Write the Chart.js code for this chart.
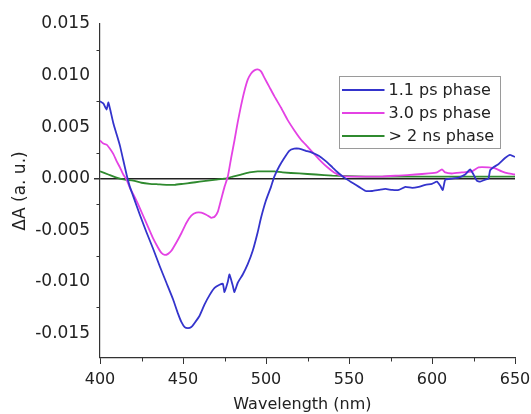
<!DOCTYPE html>
<html>
<head>
<meta charset="utf-8">
<script src="https://cdn.jsdelivr.net/npm/chart.js@4.4.1/dist/chart.umd.min.js"></script>
<style>
  html, body { margin: 0; padding: 0; background: #fff; }
  #wrap { width: 531px; height: 414px; }
</style>
</head>
<body>
<div id="wrap"><canvas id="c" width="531" height="414"></canvas></div>
<script>
// ---- data ----
const seriesLabels = ["1.1 ps phase", "3.0 ps phase", "> 2 ns phase"];

const blueX = [400,402,404,405,406,408,410,412,414,416,418,420,424,428,432,436,440,444,447,449,451,453,455,457,460,463,466,469,472,474,475,477,478,480,481,483,486,489,492,495,497,500,503,505,508,511,514,517,520,524,528,532,536,540,544,548,552,556,560,564,568,572,576,580,584,588,592,596,600,603,605,606.5,608,612,616,620,623,625,627,629,632,634,635,637,640,644,647,650];
const blueY = [0.0075,0.0073,0.0067,0.0074,0.0068,0.0054,0.0043,0.0032,0.0018,0.0004,-0.0008,-0.0017,-0.0035,-0.0052,-0.0068,-0.0085,-0.0101,-0.0117,-0.0131,-0.0139,-0.0144,-0.0145,-0.0144,-0.0140,-0.0133,-0.0122,-0.0113,-0.0106,-0.0103,-0.0102,-0.0110,-0.0100,-0.0093,-0.0104,-0.0110,-0.0101,-0.0093,-0.0083,-0.0070,-0.0052,-0.0038,-0.0021,-0.0008,0.0002,0.0012,0.0020,0.0027,0.0029,0.0029,0.0027,0.0025,0.0022,0.0017,0.0011,0.0005,0.0000,-0.0004,-0.0008,-0.0012,-0.0012,-0.0011,-0.0010,-0.0011,-0.0011,-0.0008,-0.0009,-0.0008,-0.0006,-0.0005,-0.0003,-0.0007,-0.0011,-0.0001,0.0000,0.0001,0.0004,0.0009,0.0004,-0.0002,-0.0003,-0.0001,0.0000,0.0008,0.0011,0.0014,0.0020,0.0023,0.0021];

const magX = [400,402,404,406,408,410,412,414,416,418,420,423,426,429,432,435,437,439,441,443,446,449,452,455,458,461,464,467,469,471,473,475,477,479,481,483,485,487,489,491,493,495,497,499,502,505,509,513,517,521,525,529,533,537,541,545,550,560,570,580,590,598,603,606,608,612,618,624,628,634,638,642,646,650];
const magY = [0.0037,0.0034,0.0033,0.0029,0.0024,0.0017,0.0011,0.0004,-0.0001,-0.0009,-0.0015,-0.0025,-0.0036,-0.0047,-0.0058,-0.0067,-0.0072,-0.0074,-0.0073,-0.0070,-0.0062,-0.0053,-0.0043,-0.0036,-0.0033,-0.0033,-0.0035,-0.0038,-0.0037,-0.0032,-0.0020,-0.0008,0.0002,0.0020,0.0037,0.0055,0.0071,0.0085,0.0096,0.0102,0.0105,0.0106,0.0104,0.0098,0.0089,0.0080,0.0069,0.0057,0.0047,0.0038,0.0031,0.0024,0.0017,0.0011,0.0006,0.0003,0.0002,0.0002,0.0002,0.0003,0.0004,0.0005,0.0006,0.0009,0.0006,0.0005,0.0006,0.0007,0.0011,0.0011,0.0010,0.0007,0.0005,0.0004];

const greenX = [400,405,410,415,420,425,430,435,440,445,450,455,460,465,470,475,480,485,490,495,500,505,510,520,530,540,560,580,600,620,640,650];
const greenY = [0.0007,0.0004,0.0001,-0.0001,-0.0002,-0.0004,-0.0005,-0.00055,-0.0006,-0.0006,-0.0005,-0.0004,-0.0003,-0.0002,-0.0001,0.0000,0.0002,0.0004,0.0006,0.0007,0.0007,0.0007,0.0006,0.0005,0.0004,0.0003,0.0002,0.0002,0.0002,0.0002,0.0002,0.0002];

const xTicks = [400,450,500,550,600,650];
const xMinorTicks = [425,475,525,575,625];
const yTicks = [-0.015,-0.010,-0.005,0.000,0.005,0.010,0.015];
const yMinorTicks = [-0.0125,-0.0075,-0.0025,0.0025,0.0075,0.0125];

const colors = ["#3434cc", "#e442e4", "#2f8a2f"];
const FONT = "'DejaVu Sans', 'Liberation Sans', Arial, sans-serif";
const AXIS = "#333333";

function pts(xs, ys) { return xs.map((x, i) => ({ x: x, y: ys[i] })); }

const minorTickPlugin = {
  id: "minorTicks",
  afterDraw(chart) {
    const ctx = chart.ctx;
    const xs = chart.scales.x, ys = chart.scales.y;
    ctx.save();
    ctx.strokeStyle = AXIS;
    ctx.lineWidth = 1;
    xMinorTicks.forEach(v => {
      const px = Math.round(xs.getPixelForValue(v)) + 0.5;
      ctx.beginPath(); ctx.moveTo(px, xs.top); ctx.lineTo(px, xs.top + 3.5); ctx.stroke();
    });
    yMinorTicks.forEach(v => {
      const py = Math.round(ys.getPixelForValue(v)) + 0.5;
      ctx.beginPath(); ctx.moveTo(ys.right - 3.5, py); ctx.lineTo(ys.right, py); ctx.stroke();
    });
    ctx.restore();
  }
};

const legendPlugin = {
  id: "boxLegend",
  afterDraw(chart) {
    const ctx = chart.ctx;
    const bx = 339.5, by = 76.5, bw = 161, bh = 72, rowH = 23;
    ctx.save();
    ctx.fillStyle = "#ffffff";
    ctx.fillRect(bx, by, bw, bh);
    ctx.strokeStyle = "#9a9a9a";
    ctx.lineWidth = 1;
    ctx.strokeRect(bx, by, bw, bh);
    ctx.font = "16px " + FONT;
    ctx.textBaseline = "middle";
    ctx.fillStyle = "#222";
    chart.data.datasets.forEach((ds, i) => {
      const cy = by + 13.5 + i * rowH;
      ctx.strokeStyle = ds.borderColor;
      ctx.lineWidth = 2;
      ctx.beginPath(); ctx.moveTo(bx + 2.5, cy); ctx.lineTo(bx + 45, cy); ctx.stroke();
      ctx.fillText(ds.label, bx + 49, cy + 1);
    });
    ctx.restore();
  }
};

new Chart(document.getElementById("c"), {
  type: "line",
  data: {
    datasets: [
      { label: seriesLabels[0], data: pts(blueX, blueY), borderColor: colors[0] },
      { label: seriesLabels[1], data: pts(magX, magY), borderColor: colors[1] },
      { label: seriesLabels[2], data: pts(greenX, greenY), borderColor: colors[2] }
    ]
  },
  options: {
    responsive: false,
    animation: false,
    devicePixelRatio: 1,
    layout: { padding: { left: 0, top: 24, right: 16, bottom: 0 } },
    elements: {
      point: { radius: 0 },
      line: { borderWidth: 1.8, tension: 0.15, fill: false }
    },
    plugins: {
      legend: { display: false },
      tooltip: { enabled: false }
    },
    scales: {
      x: {
        type: "linear",
        min: 400, max: 650,
        afterBuildTicks: s => { s.ticks = xTicks.map(v => ({ value: v })); },
        afterFit: s => { s.height = 56; s.paddingLeft = 0; s.paddingRight = 0; },
        border: { display: true, color: AXIS, width: 1.2 },
        grid: { drawOnChartArea: false, drawTicks: true, tickLength: 6, tickColor: AXIS },
        ticks: { color: "#222", font: { family: FONT, size: 16 }, padding: 6, maxRotation: 0 },
        title: { display: true, text: "Wavelength (nm)\u00a0\u00a0", color: "#222", font: { family: FONT, size: 16 }, padding: { top: 0, bottom: 0 } }
      },
      y: {
        type: "linear",
        min: -0.0174, max: 0.015,
        afterBuildTicks: s => { s.ticks = yTicks.map(v => ({ value: v })); },
        afterFit: s => { s.width = 100; s.paddingTop = 0; s.paddingBottom = 0; },
        border: { display: true, color: AXIS, width: 1.2 },
        grid: {
          drawOnChartArea: true, drawTicks: true, tickLength: 6, tickColor: AXIS,
          color: c => (c.tick && Math.abs(c.tick.value) < 1e-9) ? "#222" : "rgba(0,0,0,0)",
          lineWidth: c => (c.tick && Math.abs(c.tick.value) < 1e-9) ? 1.5 : 0
        },
        ticks: {
          color: "#222", font: { family: FONT, size: 17 }, padding: 4,
          callback: v => (Math.abs(v) < 1e-9 ? 0 : v).toFixed(3)
        },
        title: { display: true, text: "ΔA (a. u.)", color: "#222", font: { family: FONT, size: 17 }, padding: { top: 10, bottom: 0 } }
      }
    }
  },
  plugins: [minorTickPlugin, legendPlugin]
});
</script>
</body>
</html>
